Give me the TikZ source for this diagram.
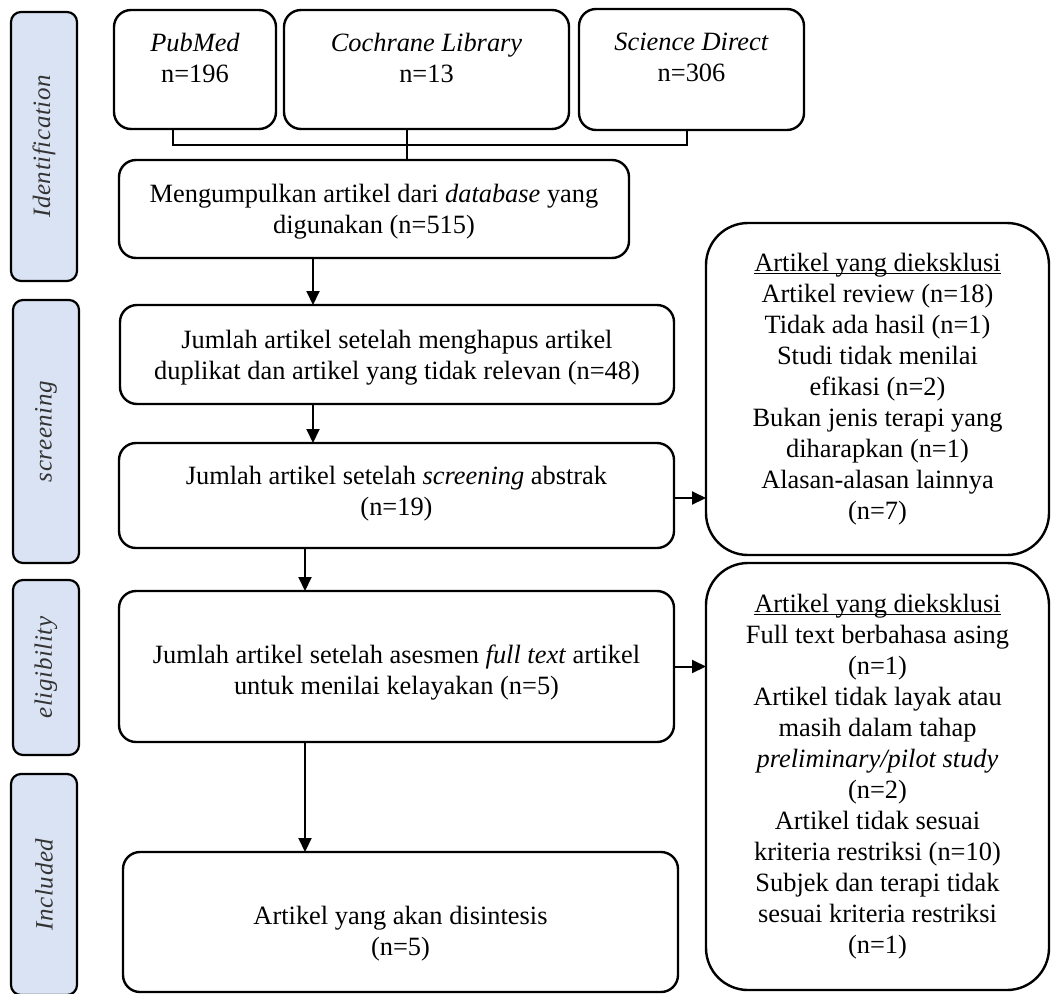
\documentclass[tikz,border=0pt]{standalone}
\usepackage{fontspec}
\setmainfont{Liberation Serif}
\newfontfamily\lanefont[LetterSpace=2.5]{Liberation Serif}
\usepackage{tikz}
\usetikzlibrary{
        arrows.meta,
        positioning
    }
\definecolor{lanefill}{HTML}{DAE3F3}
\newcommand{\headul}[1]{\setbox0\hbox{#1}\rlap{\rule[-3pt]{\wd0}{1.2pt}}\box0}
\tikzset{>={Triangle[length=14pt,width=13pt]},node distance=8pt}
\tikzset{every node/.style={font=\fontsize{26.4}{31}\selectfont}}

\begin{document}
\begin{tikzpicture}[x=1pt,y=-1pt,
        lane/.style={draw,line width=2.2pt,fill=lanefill,rounded corners=10pt,rotate=90,
            minimum height=66pt,inner sep=0pt,text=black!80,font=\fontsize{25}{30}\lanefont\itshape},
        box/.style={draw,line width=2.4pt,rounded corners=17pt,align=center,inner sep=0pt,outer sep=0pt},
        exclbox/.style={box,rounded corners=42pt,minimum width=343pt},
        mergeline/.style={line width=1.2pt},
        arr/.style={->,line width=2pt}]
                    \useasboundingbox (0,0) rectangle (1051,993);
                    \node[lane,minimum width=269pt] (identlane)  at (44,146.5)   {Identification};
                    \node[lane,minimum width=263pt] (screenlane) at (46,431.5)   {screening};
                    \node[lane,minimum width=175pt] (eliglane)   at (46,667.5)   {eligibility};
                    \node[lane,minimum width=221pt] (incllane)   at (44,884.5)   {Included};

                    \node[box,minimum width=162pt,minimum height=119pt,text depth=24pt] (pubmed) at (195,69.5)
                        {\textit{PubMed}\\n=196};
                    \node[box,minimum width=285pt,minimum height=119pt,text depth=24pt] (cochrane) [right=8pt of pubmed]
                        {\textit{Cochrane Library}\\n=13};
                    \node[box,minimum width=225pt,minimum height=121pt,text depth=24pt] (sciencedirect) [right=10pt of cochrane]
                        {\textit{Science Direct}\\n=306};

                    \node[box,minimum width=510pt,minimum height=98pt,text height=55pt] (collect) at (374,209)
                        {Mengumpulkan artikel dari \textit{database} yang\\digunakan (n=515)};
                    \node[box,minimum width=554pt,minimum height=99pt,text height=55pt] (dedup) at (397,354.5)
                        {Jumlah artikel setelah menghapus artikel\\duplikat dan artikel yang tidak relevan (n=48)};
                    \node[box,minimum width=555pt,minimum height=105pt,text height=45pt] (abstract) at (396.5,495.5)
                        {Jumlah artikel setelah \textit{screening} abstrak\\(n=19)};
                    \node[box,minimum width=555pt,minimum height=151pt,text height=62pt] (fulltext) at (396.5,666.5)
                        {Jumlah artikel setelah asesmen \textit{full text} artikel\\untuk menilai kelayakan (n=5)};
                    \node[box,minimum width=555pt,minimum height=140pt,text height=73pt] (included) at (400.5,922)
                        {Artikel yang akan disintesis\\(n=5)};

                    \node[exclbox,minimum height=332pt] (excl1) at (877.5,389)
                        {\headul{Artikel yang dieksklusi}\\Artikel review (n=18)\\Tidak ada hasil (n=1)\\
                         Studi tidak menilai\\efikasi (n=2)\\Bukan jenis terapi yang\\diharapkan (n=1)\\
                         Alasan-alasan lainnya\\(n=7)};
                    \node[exclbox,minimum height=427pt] (excl2) at (877.5,776.5)
                        {\headul{Artikel yang dieksklusi}\\Full text berbahasa asing\\(n=1)\\
                         Artikel tidak layak atau\\masih dalam tahap\\\textit{preliminary/pilot study}\\(n=2)\\
                         Artikel tidak sesuai\\kriteria restriksi (n=10)\\Subjek dan terapi tidak\\
                         sesuai kriteria restriksi\\(n=1)};

                    \coordinate (merge) at (407,145);
                    \draw[mergeline] ([xshift=-22pt]pubmed.south) |- (merge) -| ([xshift=-4.5pt]sciencedirect.south);
                    \draw[mergeline] (merge |- cochrane.south) -- (merge |- collect.north);

                    \draw[arr] ([xshift=-61pt]collect.south) -- ([xshift=-61pt]collect.south |- dedup.north);
                    \draw[arr] ([xshift=-84pt]dedup.south) -- ([xshift=-84pt]dedup.south |- abstract.north);
                    \draw[arr] ([xshift=-91.5pt]abstract.south) -- ([xshift=-91.5pt]abstract.south |- fulltext.north);
                    \draw[arr] ([xshift=-91.5pt]fulltext.south) -- ([xshift=-91.5pt]fulltext.south |- included.north);
                    \draw[arr] ([yshift=-2.5pt]abstract.east) -- ([yshift=-2.5pt]abstract.east -| excl1.west);
                    \draw[arr] (fulltext.east) -- (fulltext.east -| excl2.west);
                \end{tikzpicture}
\end{document}
